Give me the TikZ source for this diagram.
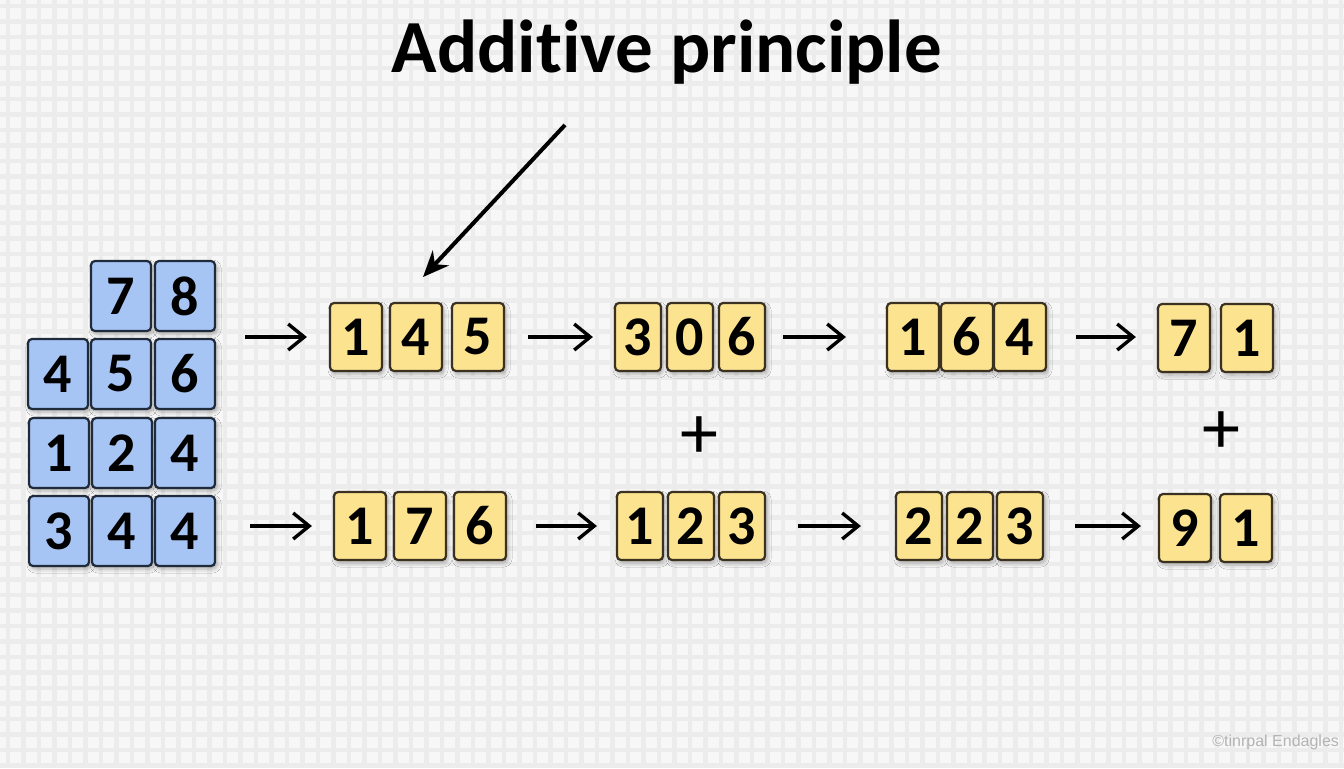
\documentclass[tikz,border=0pt]{standalone}
\usepackage{fontspec}
\setmainfont{Carlito}[Ligatures=NoCommon]
\newfontfamily\markfont{Liberation Sans}
\usetikzlibrary{arrows.meta,shadows.blur}
\definecolor{paper}{HTML}{F7F7F7}
\definecolor{gridgray}{HTML}{ECECEC}
\definecolor{tileblue}{HTML}{A6C4F4}
\definecolor{blueedge}{HTML}{1F2A3A}
\definecolor{tileyellow}{HTML}{FCE38F}
\definecolor{yellowedge}{HTML}{3A3120}
\definecolor{markgray}{HTML}{B3B3B3}
\tikzset{
  tilebase/.style={rounded corners=2pt, line width=1.1pt, inner sep=0pt,
    font=\fontsize{28}{30}\selectfont\bfseries,
    blur shadow={shadow xshift=1pt, shadow yshift=-1.5pt, shadow blur radius=2pt, shadow opacity=30}},
  btile/.style={tilebase, draw=blueedge, fill=tileblue, minimum width=30pt, minimum height=35pt},
  ytile/.style={tilebase, draw=yellowedge, fill=tileyellow, minimum width=26pt, minimum height=34pt},
  narrow/.style={minimum width=23pt},
  arr/.style={line width=1.7pt, -{Straight Barb[length=8pt,width=13pt]}},
  bigarr/.style={line width=2pt, -{Stealth[length=13pt,width=11pt]}},
  plussign/.style={inner sep=0pt, font=\fontsize{38}{40}\selectfont},
  gridline/.style={gridgray, line width=2.2pt}
}
\begin{document}
\begin{tikzpicture}[x=0.5pt,y=-0.5pt]
  \useasboundingbox (0,0) rectangle (1344,768);
  % background paper
  \fill[paper] (0,0) rectangle (1344,768);
  \foreach \gx in {8,23.5,...,1344} \draw[gridline] (\gx,0) -- (\gx,768);
  \foreach \gy in {6,21.5,...,768} \draw[gridline] (0,\gy) -- (1344,\gy);

  \node[anchor=base, font=\fontsize{37.5}{40}\selectfont\bfseries] (title) at (667,72) {Additive principle};
  \coordinate (pointfrom) at (565,125);
  \coordinate (pointto) at (423,277);
  \draw[bigarr] (pointfrom) -- (pointto);

  % blue grid
  \node[btile] (g7) at (121,296) {7};
  \node[btile] (g8) at (185,296) {8};
  \node[btile] (g4a) at (58,374) {4};
  \node[btile] (g5) at (121,374) {5};
  \node[btile] (g6) at (185,374) {6};
  \node[btile] (g1) at (59,453) {1};
  \node[btile] (g2) at (122,453) {2};
  \node[btile] (g4b) at (185,453) {4};
  \node[btile] (g3) at (59,531) {3};
  \node[btile] (g4c) at (122,531) {4};
  \node[btile] (g4d) at (185,531) {4};

  % top row
  \node[ytile] (ta1) at (356,337) {1};
  \node[ytile] (ta2) at (416,337) {4};
  \node[ytile] (ta3) at (478,337) {5};
  \node[ytile, narrow] (tb1) at (638,337) {3};
  \node[ytile, narrow] (tb2) at (690,337) {0};
  \node[ytile, narrow] (tb3) at (742,337) {6};
  \node[ytile] (tc1) at (913,337) {1};
  \node[ytile] (tc2) at (967,337) {6};
  \node[ytile] (tc3) at (1020,337) {4};
  \node[ytile] (td1) at (1184,338) {7};
  \node[ytile] (td2) at (1247,338) {1};

  % bottom row
  \node[ytile] (ba1) at (360,526) {1};
  \node[ytile] (ba2) at (420,526) {7};
  \node[ytile] (ba3) at (480,526) {6};
  \node[ytile, narrow] (bb1) at (640,526) {1};
  \node[ytile, narrow] (bb2) at (691,526) {2};
  \node[ytile, narrow] (bb3) at (742,526) {3};
  \node[ytile, narrow] (bc1) at (919,526) {2};
  \node[ytile, narrow] (bc2) at (970,526) {2};
  \node[ytile, narrow] (bc3) at (1020,526) {3};
  \node[ytile] (bd1) at (1185,528) {9};
  \node[ytile] (bd2) at (1246,528) {1};

  \node[plussign] (plusb) at (699,438) {+};
  \node[plussign] (plusd) at (1221,433) {+};

  % arrows
  \draw[arr, shorten <=14.5pt, shorten >=11pt] (g6.east |- ta1) -- (ta1.west);
  \draw[arr, shorten <=11.5pt, shorten >=10.5pt] (ta3.east) -- (tb1.west);
  \draw[arr, shorten <=8.5pt, shorten >=20pt] (tb3.east) -- (tc1.west);
  \draw[arr, shorten <=14.5pt, shorten >=10.5pt] (tc3.east) -- (tc3.east -| td1.west);
  \draw[arr, shorten <=17pt, shorten >=10.5pt] (g4d.east |- ba1) -- (ba1.west);
  \draw[arr, shorten <=14.5pt, shorten >=9.5pt] (ba3.east) -- (bb1.west);
  \draw[arr, shorten <=16pt, shorten >=17pt] (bb3.east) -- (bc1.west);
  \draw[arr, shorten <=15.5pt, shorten >=8.5pt] (bc3.east) -- (bc3.east -| bd1.west);

  \node[anchor=east, markgray, font=\markfont\fontsize{8}{9}\selectfont] (mark) at (1346,742) {©tinrpal Endagles};
\end{tikzpicture}
\end{document}
